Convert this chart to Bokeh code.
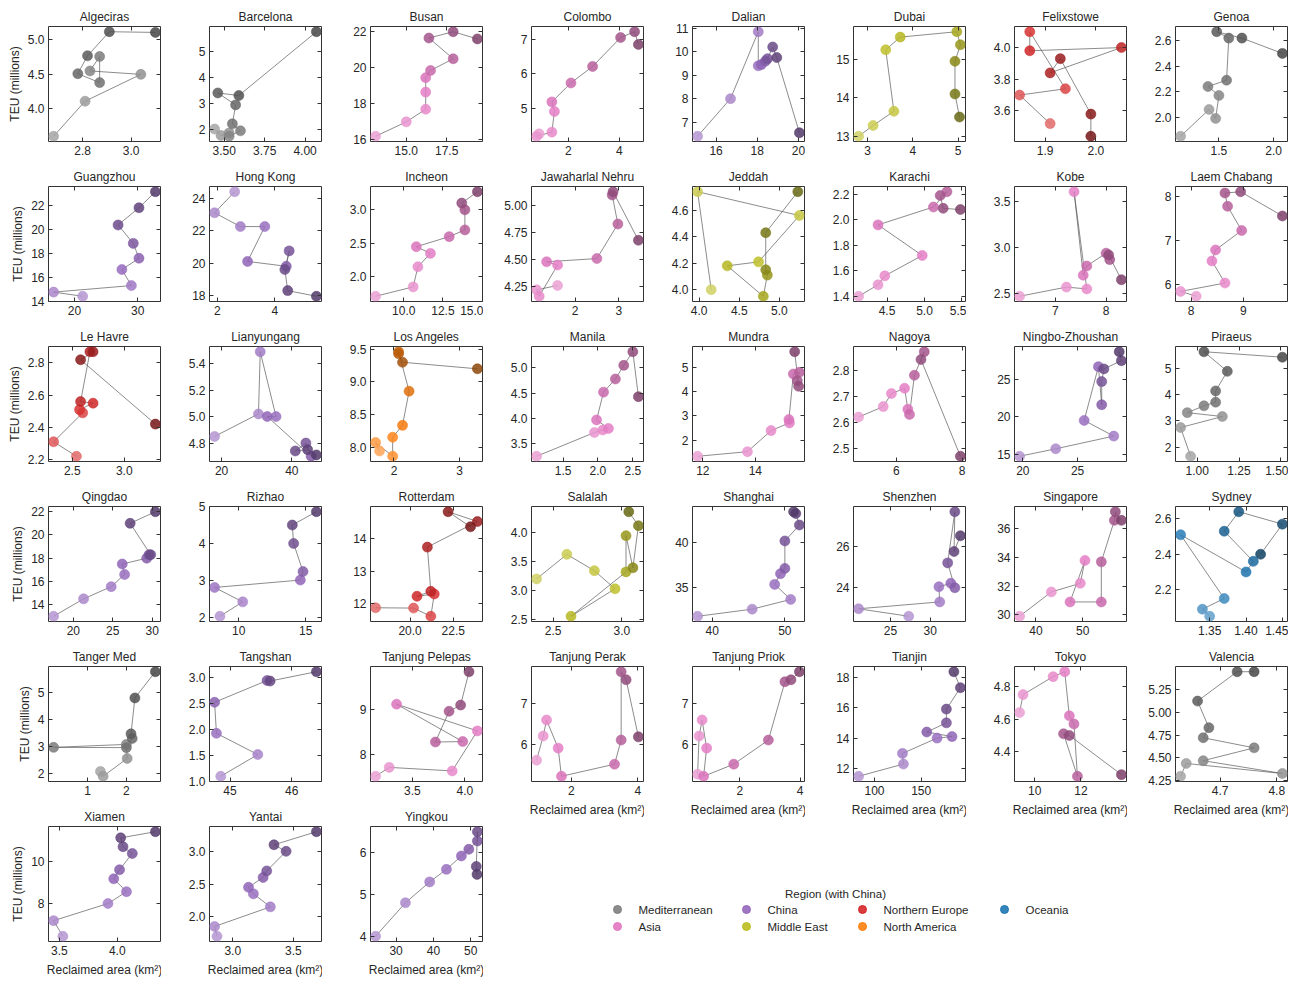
from bokeh.plotting import figure
from bokeh.layouts import row, column
from bokeh.models import Range1d, FixedTicker, LinearAxis, CustomJSTickFormatter, ColumnDataSource
from bokeh.embed import file_html
from bokeh.resources import INLINE
from bokeh.core.properties import value

ports = ["Algeciras", "Barcelona", "Busan", "Colombo", "Dalian", "Dubai", "Felixstowe", "Genoa",
         "Guangzhou", "Hong Kong", "Incheon", "Jawaharlal Nehru", "Jeddah", "Karachi", "Kobe", "Laem Chabang",
         "Le Havre", "Lianyungang", "Los Angeles", "Manila", "Mundra", "Nagoya", "Ningbo-Zhoushan", "Piraeus",
         "Qingdao", "Rizhao", "Rotterdam", "Salalah", "Shanghai", "Shenzhen", "Singapore", "Sydney",
         "Tanger Med", "Tangshan", "Tanjung Pelepas", "Tanjung Perak", "Tanjung Priok", "Tianjin", "Tokyo", "Valencia",
         "Xiamen", "Yantai", "Yingkou"]

regions = ["Mediterranean", "Mediterranean", "Asia", "Asia", "China", "Middle East", "Northern Europe", "Mediterranean",
           "China", "China", "Asia", "Asia", "Middle East", "Asia", "Asia", "Asia",
           "Northern Europe", "China", "North America", "Asia", "Asia", "Asia", "China", "Mediterranean",
           "China", "China", "Northern Europe", "Middle East", "China", "China", "Asia", "Oceania",
           "Mediterranean", "China", "Asia", "Asia", "Asia", "China", "Asia", "Mediterranean",
           "China", "China", "China"]

# Reclaimed area (km2), chronological order
area = [
    [2.68, 2.81, 3.04, 2.83, 2.87, 2.87, 2.78, 2.82, 2.91, 3.10],
    [3.44, 3.48, 3.53, 3.53, 3.60, 3.55, 3.57, 3.46, 3.59, 4.07],
    [13.1, 15.0, 16.2, 16.2, 16.2, 16.5, 17.9, 16.4, 17.9, 19.4],
    [0.85, 0.75, 1.35, 1.45, 1.35, 2.10, 2.95, 4.05, 4.60, 4.75],
    [15.1, 16.7, 18.05, 18.05, 18.2, 18.4, 18.5, 18.75, 18.95, 20.05],
    [2.80, 3.12, 3.58, 3.40, 3.72, 4.97, 5.05, 4.93, 4.93, 5.03],
    [1.91, 1.85, 1.94, 1.87, 1.87, 2.05, 1.91, 1.93, 1.99, 1.99],
    [1.15, 1.41, 1.47, 1.50, 1.40, 1.57, 1.59, 1.48, 1.71, 2.08],
    [21.3, 16.7, 29.0, 27.5, 30.2, 29.3, 26.9, 30.2, 32.8],
    [2.6, 1.9, 2.8, 3.65, 3.05, 4.4, 4.5, 4.35, 4.45, 5.45],
    [8.2, 10.6, 10.9, 11.7, 10.8, 12.9, 13.9, 13.9, 13.7, 14.7],
    [1.60, 1.12, 1.18, 1.60, 1.35, 2.50, 2.98, 2.85, 2.87, 3.45],
    [4.15, 3.98, 5.25, 4.74, 4.35, 4.80, 4.85, 4.83, 4.83, 5.23],
    [4.12, 4.38, 4.47, 4.97, 4.38, 5.12, 5.30, 5.21, 5.25, 5.48],
    [6.3, 7.22, 7.62, 7.37, 7.55, 7.62, 8.0, 8.07, 8.05, 8.3],
    [8.1, 7.8, 8.65, 8.4, 8.47, 8.97, 8.7, 8.65, 8.95, 9.75],
    [2.54, 2.32, 2.60, 2.57, 2.70, 2.58, 2.67, 2.70, 2.58, 3.30],
    [18.0, 30.5, 31.0, 35.5, 33.0, 45.5, 44.0, 41.0, 44.5, 47.0],
    [1.78, 1.72, 1.98, 1.98, 2.13, 2.23, 2.07, 2.07, 2.13, 3.27],
    [1.12, 1.95, 2.07, 2.15, 1.98, 2.08, 2.25, 2.37, 2.50, 2.58],
    [11.8, 13.7, 14.6, 15.3, 15.28, 15.45, 15.68, 15.6, 15.65, 15.5],
    [4.85, 5.6, 5.85, 6.25, 6.35, 6.4, 6.55, 6.85, 6.75, 7.95],
    [19.7, 23.0, 28.3, 25.6, 26.9, 27.2, 27.2, 27.4, 29.0, 28.8],
    [0.96, 0.90, 1.15, 0.94, 1.04, 1.11, 1.11, 1.18, 1.04, 1.51],
    [17.5, 21.3, 24.8, 26.5, 26.2, 29.3, 29.6, 29.8, 27.2, 30.4],
    [8.6, 10.3, 8.2, 14.6, 14.8, 14.1, 14.0, 15.8],
    [18.0, 20.2, 21.2, 21.4, 20.4, 21.2, 21.0, 23.9, 22.2, 23.5],
    [2.38, 2.60, 2.80, 2.95, 2.63, 3.03, 3.03, 3.08, 3.12, 3.05],
    [38.0, 45.5, 50.8, 48.6, 49.4, 50.0, 50.0, 52.0, 51.5, 51.2],
    [27.3, 21.0, 31.2, 31.1, 32.6, 33.1, 32.2, 33.1, 33.0, 33.8],
    [36.5, 43.3, 49.5, 50.5, 47.3, 54.0, 54.0, 56.8, 57.0, 58.3],
    [1.35, 1.34, 1.37, 1.31, 1.40, 1.41, 1.37, 1.39, 1.45, 1.42],
    [1.33, 1.40, 2.02, 2.00, 0.12, 2.00, 2.15, 2.12, 2.22, 2.75],
    [44.85, 45.45, 44.78, 44.75, 45.6, 45.65, 46.4],
    [3.15, 3.28, 3.88, 4.12, 3.35, 3.98, 3.72, 3.85, 3.96, 4.04],
    [0.95, 1.15, 1.25, 1.60, 1.70, 3.30, 3.50, 3.50, 3.65, 4.02],
    [0.60, 0.65, 0.75, 0.90, 0.80, 1.80, 2.95, 3.50, 3.70, 3.98],
    [83, 131, 130, 167, 183, 156, 177, 177, 192, 185],
    [9.35, 9.50, 10.8, 11.3, 11.5, 11.7, 11.85, 11.25, 11.5, 13.75],
    [4.63, 4.64, 4.81, 4.67, 4.76, 4.67, 4.68, 4.66, 4.73, 4.76],
    [3.53, 3.45, 3.92, 4.08, 3.97, 4.02, 4.13, 4.05, 4.03, 4.33],
    [2.87, 2.85, 3.31, 3.17, 3.13, 3.25, 3.28, 3.44, 3.34, 3.69],
    [24.5, 32.5, 39.0, 43.5, 47.5, 49.5, 51.8, 51.8, 51.5, 51.7],
]

# TEU (millions), same order
teu = [
    [3.60, 4.11, 4.50, 4.55, 4.76, 4.38, 4.51, 4.77, 5.12, 5.11],
    [2.03, 1.78, 1.88, 1.75, 1.96, 2.23, 2.96, 3.42, 3.32, 5.78],
    [16.2, 17.0, 17.7, 18.65, 19.45, 19.85, 20.5, 21.65, 22.0, 21.6],
    [4.25, 4.18, 4.30, 4.90, 5.18, 5.73, 6.21, 7.05, 7.22, 6.85],
    [6.4, 8.0, 10.85, 9.4, 9.45, 9.6, 9.7, 10.2, 9.75, 6.55],
    [13.0, 13.28, 13.65, 15.25, 15.58, 15.72, 15.38, 14.95, 14.1, 13.5],
    [3.52, 3.70, 3.74, 4.10, 3.98, 4.00, 3.84, 3.93, 3.58, 3.44],
    [1.85, 2.06, 1.99, 2.17, 2.24, 2.29, 2.62, 2.67, 2.62, 2.50],
    [14.4, 14.75, 15.3, 16.65, 17.6, 18.85, 20.4, 21.85, 23.2],
    [24.4, 23.1, 22.25, 22.25, 20.1, 19.8, 20.75, 19.6, 18.3, 17.95],
    [1.71, 1.85, 2.15, 2.35, 2.45, 2.60, 2.70, 3.00, 3.10, 3.27],
    [4.26, 4.22, 4.16, 4.45, 4.48, 4.51, 4.83, 5.10, 5.13, 4.68],
    [4.00, 4.74, 4.56, 4.21, 4.18, 3.95, 4.11, 4.15, 4.43, 4.74],
    [1.40, 1.49, 1.56, 1.72, 1.96, 2.10, 2.22, 2.19, 2.09, 2.08],
    [2.47, 2.57, 2.55, 3.61, 2.70, 2.80, 2.94, 2.87, 2.92, 2.65],
    [5.73, 5.84, 6.03, 6.53, 6.78, 7.22, 7.77, 8.07, 8.10, 7.55],
    [2.22, 2.31, 2.49, 2.51, 2.55, 2.56, 2.87, 2.87, 2.82, 2.42],
    [4.85, 5.02, 5.49, 5.00, 5.00, 4.70, 4.80, 4.74, 4.75, 4.71],
    [7.95, 8.08, 7.87, 8.16, 8.34, 8.86, 9.46, 9.43, 9.30, 9.20],
    [3.25, 3.72, 3.77, 3.80, 3.97, 4.52, 4.78, 5.05, 5.32, 4.43],
    [1.33, 1.52, 2.39, 2.71, 2.85, 4.73, 4.80, 4.45, 4.22, 5.65],
    [2.62, 2.66, 2.71, 2.73, 2.65, 2.63, 2.78, 2.87, 2.84, 2.47],
    [14.7, 15.7, 17.4, 19.5, 26.7, 21.6, 24.7, 26.4, 27.5, 28.7],
    [1.65, 2.75, 3.17, 3.32, 3.58, 3.72, 4.15, 4.90, 5.65, 5.44],
    [13.0, 14.5, 15.55, 16.6, 17.5, 18.0, 18.3, 18.3, 21.0, 22.0],
    [2.03, 2.42, 2.81, 3.01, 3.24, 4.00, 4.50, 4.86],
    [11.88, 11.87, 11.62, 12.30, 12.23, 12.38, 13.73, 14.51, 14.81, 14.35],
    [3.20, 3.62, 3.34, 3.03, 2.56, 3.32, 3.94, 3.39, 4.11, 4.35],
    [31.7, 32.5, 33.6, 35.3, 36.5, 37.1, 40.2, 42.0, 43.3, 43.5],
    [22.57, 22.94, 23.28, 24.03, 24.20, 23.98, 25.21, 27.74, 25.77, 26.55],
    [29.9, 31.6, 32.2, 33.8, 30.9, 30.9, 33.7, 36.6, 37.2, 36.6],
    [2.05, 2.09, 2.15, 2.51, 2.30, 2.36, 2.53, 2.64, 2.57, 2.40],
    [2.08, 1.90, 2.56, 3.08, 2.97, 2.96, 3.30, 3.47, 4.80, 5.77],
    [1.10, 1.52, 1.93, 2.53, 2.95, 2.94, 3.12],
    [7.50, 7.70, 7.62, 8.52, 9.12, 8.28, 8.27, 8.96, 9.10, 9.85],
    [5.60, 6.20, 6.60, 5.90, 5.20, 5.50, 6.10, 7.80, 7.60, 6.18],
    [5.25, 6.20, 6.60, 5.90, 5.20, 5.50, 6.10, 7.55, 7.60, 7.80],
    [11.5, 12.3, 13.0, 14.0, 14.1, 14.4, 15.0, 15.9, 17.3, 18.35],
    [4.64, 4.75, 4.86, 4.89, 4.62, 4.57, 4.25, 4.51, 4.50, 4.26],
    [4.30, 4.44, 4.33, 4.47, 4.61, 4.72, 4.83, 5.12, 5.44, 5.44],
    [6.46, 7.20, 8.01, 8.57, 9.18, 9.61, 10.38, 10.70, 11.12, 11.41],
    [1.70, 1.85, 2.15, 2.35, 2.45, 2.60, 2.70, 3.00, 3.10, 3.30],
    [4.0, 4.8, 5.3, 5.6, 5.92, 6.08, 6.28, 6.50, 5.67, 5.48],
]

xtick_labels = [
    ["2.8", "3.0"], ["3.50", "3.75", "4.00"], ["15.0", "17.5"], ["2", "4"], ["16", "18", "20"],
    ["3", "4", "5"], ["1.9", "2.0"], ["1.5", "2.0"],
    ["20", "30"], ["2", "4"], ["10.0", "12.5", "15.0"], ["2", "3"], ["4.0", "4.5", "5.0"],
    ["4.5", "5.0", "5.5"], ["7", "8"], ["8", "9"],
    ["2.5", "3.0"], ["20", "40"], ["2", "3"], ["1.5", "2.0", "2.5"], ["12", "14"], ["6", "8"],
    ["20", "25"], ["1.00", "1.25", "1.50"],
    ["20", "25", "30"], ["10", "15"], ["20.0", "22.5"], ["2.5", "3.0"], ["40", "50"], ["25", "30"],
    ["40", "50"], ["1.35", "1.40", "1.45"],
    ["1", "2"], ["45", "46"], ["3.5", "4.0"], ["2", "4"], ["2", "4"], ["100", "150"], ["10", "12"],
    ["4.7", "4.8"],
    ["3.5", "4.0"], ["3.0", "3.5"], ["30", "40", "50"],
]

ytick_labels = [
    ["4.0", "4.5", "5.0"], ["2", "3", "4", "5"], ["16", "18", "20", "22"], ["5", "6", "7"],
    ["7", "8", "9", "10", "11"], ["13", "14", "15"], ["3.6", "3.8", "4.0"], ["2.0", "2.2", "2.4", "2.6"],
    ["14", "16", "18", "20", "22"], ["18", "20", "22", "24"], ["2.0", "2.5", "3.0"],
    ["4.25", "4.50", "4.75", "5.00"], ["4.0", "4.2", "4.4", "4.6"], ["1.4", "1.6", "1.8", "2.0", "2.2"],
    ["2.5", "3.0", "3.5"], ["6", "7", "8"],
    ["2.2", "2.4", "2.6", "2.8"], ["4.8", "5.0", "5.2", "5.4"], ["8.0", "8.5", "9.0", "9.5"],
    ["3.5", "4.0", "4.5", "5.0"], ["2", "3", "4", "5"], ["2.5", "2.6", "2.7", "2.8"], ["15", "20", "25"],
    ["2", "3", "4", "5"],
    ["14", "16", "18", "20", "22"], ["2", "3", "4", "5"], ["12", "13", "14"], ["2.5", "3.0", "3.5", "4.0"],
    ["35", "40"], ["24", "26"], ["30", "32", "34", "36"], ["2.2", "2.4", "2.6"],
    ["2", "3", "4", "5"], ["1.0", "1.5", "2.0", "2.5", "3.0"], ["8", "9"], ["6", "7"], ["6", "7"],
    ["12", "14", "16", "18"], ["4.4", "4.6", "4.8"], ["4.25", "4.50", "4.75", "5.00", "5.25"],
    ["8", "10"], ["2.0", "2.5", "3.0"], ["4", "5", "6"],
]

legend_regions = ["Mediterranean", "Asia", "China", "Middle East", "Northern Europe", "North America", "Oceania"]
base_colors = {
    "Mediterranean": "#7f7f7f", "Asia": "#e377c2", "China": "#9467bd", "Middle East": "#bcbd22",
    "Northern Europe": "#d62728", "North America": "#ff7f0e", "Oceania": "#1f77b4",
}

FONT = "Liberation Sans"
TXT = "#262626"
SPINE = "#333333"
NCOLS = 8
FW, FH = 112, 115          # frame size
TOP, BOT, BOT_X = 26, 19, 37


def shade(hexc, t):
    r, g, b = (int(hexc[k:k + 2], 16) for k in (1, 3, 5))
    f = -0.3 + 0.75 * t
    out = []
    for c in (r, g, b):
        if f < 0:
            c = c + (255 - c) * (-f)
        else:
            c = c * (1 - f)
        out.append(int(round(max(0, min(255, c)))))
    return "#%02x%02x%02x" % tuple(out)


def padded(vals):
    lo, hi = min(vals), max(vals)
    span = hi - lo if hi > lo else 1.0
    return Range1d(lo - 0.05 * span, hi + 0.05 * span)


def style_axis(ax, show_labels):
    ax.axis_line_color = None
    ax.major_tick_in = 4
    ax.major_tick_out = 0
    ax.major_tick_line_color = SPINE
    ax.major_tick_line_width = 1
    ax.minor_tick_line_color = None
    ax.major_label_text_font = FONT
    ax.major_label_text_font_size = "12px"
    ax.major_label_text_color = TXT
    ax.axis_label_text_font = FONT
    ax.axis_label_text_font_size = "12px"
    ax.axis_label_text_font_style = "normal"
    ax.axis_label_text_color = TXT
    ax.axis_label_standoff = 5
    ax.major_label_standoff = 4 if show_labels else 0


def make_panel(i, col, with_xlabel):
    xs, ys = area[i], teu[i]
    n = len(xs)
    base = base_colors[regions[i]]
    cols = [shade(base, k / (n - 1)) for k in range(n)]
    p = figure(frame_width=FW, frame_height=FH, output_backend="svg", toolbar_location=None,
               x_range=padded(xs), y_range=padded(ys), title=ports[i],
               min_border_left=48, min_border_right=1, min_border_top=TOP,
               min_border_bottom=BOT_X if with_xlabel else BOT)
    p.title.align = "center"
    p.title.text_font = FONT
    p.title.text_font_size = "12px"
    p.title.text_font_style = "normal"
    p.title.text_color = TXT
    p.title.standoff = 5
    p.grid.visible = False
    p.outline_line_color = SPINE
    p.outline_line_width = 1
    p.outline_line_alpha = 1
    p.background_fill_color = "white"
    p.border_fill_color = "white"

    xt = [float(s) for s in xtick_labels[i]]
    yt = [float(s) for s in ytick_labels[i]]
    p.xaxis.ticker = FixedTicker(ticks=xt)
    p.yaxis.ticker = FixedTicker(ticks=yt)
    p.xaxis.major_label_overrides = {v: s for v, s in zip(xt, xtick_labels[i])}
    p.yaxis.major_label_overrides = {v: s for v, s in zip(yt, ytick_labels[i])}
    for ax in p.xaxis + p.yaxis:
        style_axis(ax, True)
    p.yaxis.axis_label_standoff = 3
    if with_xlabel:
        p.xaxis.axis_label = "Reclaimed area (km²)"
    if col == 0:
        p.yaxis.axis_label = "TEU (millions)"

    blank = CustomJSTickFormatter(code="return ''")
    top = LinearAxis(ticker=FixedTicker(ticks=xt), formatter=blank)
    right = LinearAxis(ticker=FixedTicker(ticks=yt), formatter=blank)
    for ax in (top, right):
        style_axis(ax, False)
        ax.major_label_text_font_size = "1px"
    p.add_layout(top, "above")
    p.add_layout(right, "right")

    src = ColumnDataSource(dict(x=xs, y=ys, c=cols))
    p.line("x", "y", source=src, line_color="#555555", line_width=0.8, line_alpha=0.85)
    p.scatter("x", "y", source=src, size=10, fill_color="c", line_color="c",
              fill_alpha=0.85, line_alpha=0.9, line_width=0.6)
    return p


def idx(r, c):
    return r * NCOLS + c


# left block: columns 0-2, six rows
left_rows = []
for r in range(6):
    figs = [make_panel(idx(r, c), c, r == 5) for c in range(3)]
    left_rows.append(row(*figs))
left_block = column(*left_rows)

# right block: columns 3-7, five rows + legend
right_rows = []
for r in range(5):
    figs = [make_panel(idx(r, c), c, r == 4) for c in range(3, NCOLS)]
    right_rows.append(row(*figs))

LW, LH = 800, 160
leg = figure(width=LW, height=LH, output_backend="svg", toolbar_location=None,
             x_range=Range1d(0, LW), y_range=Range1d(0, LH),
             min_border=0, min_border_left=0, min_border_right=0, min_border_top=0, min_border_bottom=0)
leg.axis.visible = False
leg.grid.visible = False
leg.outline_line_color = None
col_x = [134, 263, 379, 521]
row_y = [70, 53]
mx, my, mc, tx, ty, tl = [], [], [], [], [], []
for k, reg in enumerate(legend_regions):
    cx = col_x[k // 2]
    cy = row_y[k % 2]
    mx.append(cx)
    my.append(cy)
    mc.append(base_colors[reg])
    tx.append(cx + 21)
    ty.append(cy)
    tl.append(reg)
leg.scatter(mx, my, size=8, fill_color=mc, line_color=mc, fill_alpha=0.9)
leg.text(tx, ty, text=tl, text_font=value(FONT), text_font_size="11.5px", text_color=TXT,
         text_baseline="middle", text_align="left")
leg.text([352], [86], text=["Region (with China)"], text_font=value(FONT), text_font_size="11.5px",
         text_color=TXT, text_baseline="middle", text_align="center")

right_block = column(*right_rows, leg)

layout = row(left_block, right_block)

open("out.html", "w").write(file_html(layout, INLINE))
